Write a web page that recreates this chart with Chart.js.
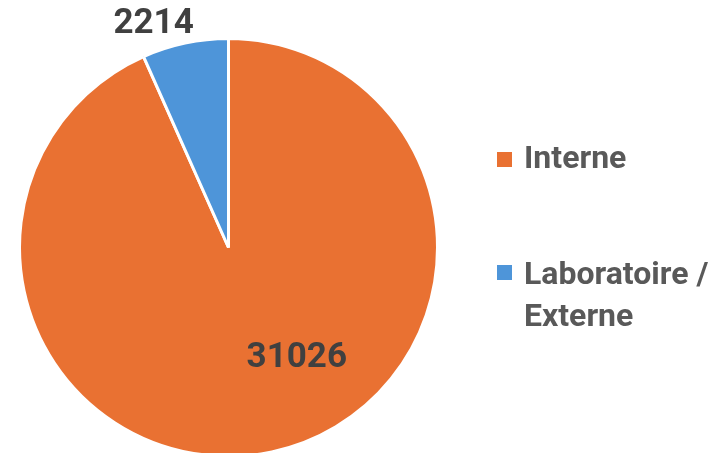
<!DOCTYPE html>
<html>
<head>
<meta charset="utf-8">
<script src="https://cdn.jsdelivr.net/npm/chart.js@4.4.1/dist/chart.umd.min.js"></script>
<style>
    body { margin: 0; background: #ffffff; }
    #wrap { position: relative; width: 718px; height: 453px; overflow: hidden; }
    #pieChart { position: absolute; left: 0; top: 0; }
    .leg { position: absolute; left: 497px; font-family: Roboto, sans-serif; font-weight: bold; font-size: 32px; color: #595959; }
    .leg .box { position: absolute; left: 0; width: 15px; height: 15px; }
    .leg .txt { position: absolute; left: 27px; white-space: nowrap; line-height: 42px; }
</style>
</head>
<body>
<div id="wrap">
    <canvas id="pieChart" width="718" height="458"></canvas>
    <div id="legend"></div>
</div>
<script>
var categories = ['Interne', 'Laboratoire / Externe'];
var values = [31026, 2214];
var legendLines = [['Interne'], ['Laboratoire /', 'Externe']];
var colors = ['#E97132', '#4E95D9'];

/*label placement: angle (deg, clockwise from 3 o'clock) and radius factor*/
var labelAngle = [58.2, -108.5];
var labelRadius = [0.62, 1.13];

/*Draw value labels*/
var valueLabels = {
    id: 'valueLabels',
    afterDatasetsDraw: function (chart) {
        var ctx = chart.ctx;
        var meta = chart.getDatasetMeta(0);
        ctx.save();
        ctx.font = 'bold 35px Roboto';
        ctx.fillStyle = '#404040';
        ctx.textAlign = 'center';
        ctx.textBaseline = 'middle';
        meta.data.forEach(function (arc, i) {
            var a = labelAngle[i] * Math.PI / 180;
            var r = arc.outerRadius * labelRadius[i];
            ctx.fillText(String(values[i]), arc.x + r * Math.cos(a), arc.y + r * Math.sin(a) + 1);
        });
        ctx.restore();
    }
};

var myChart = new Chart(document.getElementById('pieChart'), {
    type: 'pie',
    data: {
        labels: categories,
        datasets: [{
            data: values,
            backgroundColor: colors,
            borderColor: '#ffffff',
            borderWidth: 3
        }]
    },
    options: {
        responsive: false,
        animation: false,
        layout: { padding: { left: 18, right: 279, top: 37, bottom: 0 } },
        plugins: {
            legend: { display: false },
            tooltip: { enabled: false }
        }
    },
    plugins: [valueLabels]
});

/*Build legend*/
var legendTop = [152, 265];
var textTop = [-16, -13];
var html = '';
for (var i = 0; i < categories.length; i++) {
    html += '<div class="leg" style="top:' + legendTop[i] + 'px">' +
        '<div class="box" style="top:0px;background:' + colors[i] + '"></div>' +
        '<div class="txt" style="top:' + textTop[i] + 'px">' + legendLines[i].join('<br>') + '</div></div>';
}
document.getElementById('legend').innerHTML = html;
</script>
</body>
</html>
